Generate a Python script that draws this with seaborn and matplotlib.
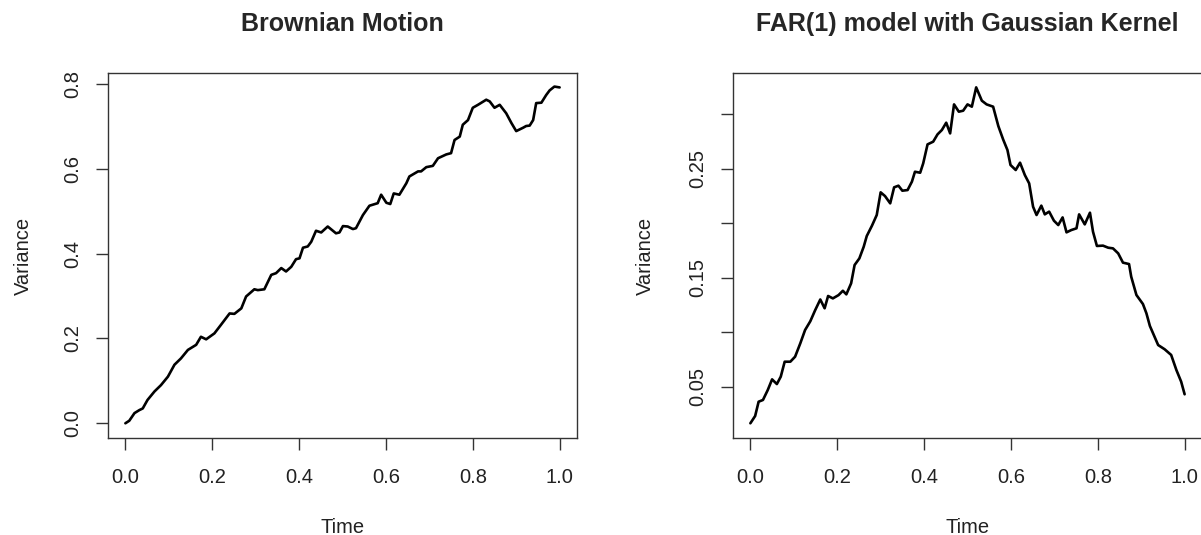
import numpy as np
import pandas as pd
import matplotlib
matplotlib.use("Agg")
import matplotlib.pyplot as plt
import seaborn as sns

# --- data ---
bm_time = [0.000, 0.009, 0.021, 0.032, 0.040, 0.051, 0.067, 0.082, 0.098, 0.113,
           0.128, 0.144, 0.163, 0.174, 0.186, 0.205, 0.220, 0.240, 0.251, 0.267,
           0.278, 0.297, 0.305, 0.320, 0.336, 0.347, 0.359, 0.370, 0.382, 0.393,
           0.401, 0.409, 0.420, 0.428, 0.439, 0.451, 0.466, 0.485, 0.493, 0.501,
           0.512, 0.524, 0.531, 0.547, 0.562, 0.581, 0.589, 0.601, 0.610, 0.618,
           0.631, 0.647, 0.654, 0.674, 0.681, 0.693, 0.708, 0.720, 0.739, 0.750,
           0.758, 0.770, 0.777, 0.789, 0.800, 0.812, 0.831, 0.839, 0.850, 0.862,
           0.877, 0.889, 0.900, 0.916, 0.923, 0.931, 0.939, 0.946, 0.958, 0.969,
           0.977, 0.988, 1.000]
bm_var = [0.000, 0.006, 0.024, 0.031, 0.035, 0.055, 0.075, 0.090, 0.110, 0.138,
          0.153, 0.173, 0.185, 0.204, 0.198, 0.212, 0.232, 0.259, 0.258, 0.271,
          0.299, 0.316, 0.314, 0.316, 0.350, 0.354, 0.366, 0.358, 0.369, 0.387,
          0.389, 0.414, 0.417, 0.428, 0.454, 0.450, 0.464, 0.448, 0.450, 0.465,
          0.464, 0.458, 0.460, 0.491, 0.513, 0.519, 0.539, 0.520, 0.517, 0.542,
          0.539, 0.566, 0.582, 0.594, 0.594, 0.604, 0.607, 0.625, 0.634, 0.637,
          0.668, 0.676, 0.704, 0.715, 0.744, 0.751, 0.763, 0.759, 0.744, 0.751,
          0.731, 0.708, 0.689, 0.697, 0.701, 0.702, 0.715, 0.755, 0.756, 0.774,
          0.785, 0.794, 0.792]

far_time = [0.000, 0.011, 0.019, 0.029, 0.040, 0.050, 0.061, 0.070, 0.079, 0.092,
            0.103, 0.115, 0.126, 0.138, 0.149, 0.161, 0.171, 0.179, 0.190, 0.203,
            0.213, 0.221, 0.232, 0.240, 0.251, 0.261, 0.268, 0.280, 0.291, 0.300,
            0.310, 0.322, 0.331, 0.341, 0.350, 0.362, 0.372, 0.379, 0.391, 0.398,
            0.408, 0.421, 0.431, 0.441, 0.451, 0.460, 0.469, 0.480, 0.490, 0.500,
            0.510, 0.520, 0.533, 0.544, 0.559, 0.571, 0.582, 0.592, 0.599, 0.611,
            0.621, 0.632, 0.642, 0.651, 0.659, 0.670, 0.678, 0.688, 0.699, 0.709,
            0.719, 0.728, 0.739, 0.751, 0.757, 0.770, 0.782, 0.789, 0.798, 0.812,
            0.824, 0.835, 0.847, 0.858, 0.872, 0.877, 0.889, 0.904, 0.912, 0.920,
            0.929, 0.939, 0.954, 0.969, 0.981, 0.992, 1.000]
far_var = [0.0164, 0.0231, 0.0362, 0.0378, 0.0469, 0.0567, 0.0524, 0.0592, 0.0729, 0.0729,
           0.0775, 0.0898, 0.1020, 0.1100, 0.1200, 0.1300, 0.1219, 0.1332, 0.1310, 0.1340,
           0.1380, 0.1347, 0.1448, 0.1616, 0.1677, 0.1784, 0.1882, 0.1977, 0.2075, 0.2283,
           0.2249, 0.2182, 0.2329, 0.2344, 0.2298, 0.2304, 0.2381, 0.2472, 0.2463, 0.2549,
           0.2723, 0.2748, 0.2815, 0.2855, 0.2922, 0.2824, 0.3090, 0.3023, 0.3032, 0.3090,
           0.3069, 0.3246, 0.3124, 0.3090, 0.3069, 0.2891, 0.2769, 0.2671, 0.2534, 0.2488,
           0.2555, 0.2442, 0.2365, 0.2151, 0.2075, 0.2161, 0.2081, 0.2106, 0.2023, 0.1983,
           0.2053, 0.1916, 0.1937, 0.1953, 0.2081, 0.1989, 0.2096, 0.1922, 0.1791, 0.1794,
           0.1775, 0.1769, 0.1723, 0.1638, 0.1625, 0.1509, 0.1341, 0.1258, 0.1173, 0.1057,
           0.0974, 0.0882, 0.0843, 0.0791, 0.0653, 0.0546, 0.0430]

x_ticks = [0.0, 0.2, 0.4, 0.6, 0.8, 1.0]
x_tick_labels = ["0.0", "0.2", "0.4", "0.6", "0.8", "1.0"]
bm_y_ticks = [0.0, 0.2, 0.4, 0.6, 0.8]
bm_y_tick_labels = ["0.0", "0.2", "0.4", "0.6", "0.8"]
far_y_ticks = [0.05, 0.10, 0.15, 0.20, 0.25, 0.30]
far_y_tick_labels = ["0.05", "", "0.15", "", "0.25", ""]

titles = ["Brownian Motion", "FAR(1) model with Gaussian Kernel"]

sns.set_style("ticks")
plt.rcParams['font.family'] = ['Liberation Sans', 'DejaVu Sans']

fig = plt.figure(figsize=(12.01, 5.35), dpi=100)
ax_w, ax_h = 469 / 1201, 365 / 535
ax_b = 97 / 535
ax1 = fig.add_axes([108 / 1201, ax_b, ax_w, ax_h])
ax2 = fig.add_axes([733 / 1201, ax_b, ax_w, ax_h])

bm = pd.DataFrame({"Time": bm_time, "Variance": bm_var})
far = pd.DataFrame({"Time": far_time, "Variance": far_var})

panels = [
    (ax1, bm, bm_y_ticks, bm_y_tick_labels, (-0.0347, 0.826), -0.16),
    (ax2, far, far_y_ticks, far_y_tick_labels, (0.0029, 0.3378), -0.166),
]

for i, (ax, df, yt, ytl, ylim, ylab_x) in enumerate(panels):
    sns.lineplot(data=df, x="Time", y="Variance", ax=ax, color="black",
                 linewidth=1.9, estimator=None, sort=False)
    ax.set_xlim(-0.04, 1.04)
    ax.set_ylim(*ylim)
    ax.set_xticks(x_ticks)
    ax.set_xticklabels(x_tick_labels)
    ax.set_yticks(yt)
    ax.set_yticklabels(ytl, rotation=90, va="center")
    ax.tick_params(axis="both", direction="out", length=8.5, width=1.0,
                   color="#333333", labelsize=14.5, labelcolor="#222222")
    ax.tick_params(axis="x", pad=13)
    ax.tick_params(axis="y", pad=10)
    for s in ax.spines.values():
        s.set_visible(True)
        s.set_color("#333333")
        s.set_linewidth(1.0)
    ax.set_title(titles[i], fontsize=18, fontweight="bold", pad=30)
    ax.set_xlabel("Time", fontsize=14.5, color="#222222")
    ax.set_ylabel("Variance", fontsize=14.5, color="#222222")
    ax.xaxis.set_label_coords(0.5, -0.22)
    ax.yaxis.set_label_coords(ylab_x, 0.5)

fig.savefig("out.png", dpi=100)
